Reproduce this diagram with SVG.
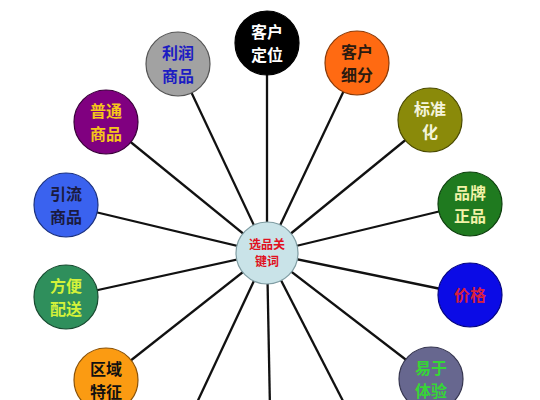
<svg xmlns="http://www.w3.org/2000/svg" width="540" height="400" viewBox="0 0 540 400">
<style>
.c{stroke-width:1.2}
.t{font-family:"Noto Sans CJK SC","Noto Sans CJK JP",sans-serif;font-weight:bold;font-size:16px;text-anchor:middle}
.tc{font-family:"Noto Sans CJK SC","Noto Sans CJK JP",sans-serif;font-weight:bold;font-size:12px;text-anchor:middle;fill:#e01020}
#connectors line{stroke:#111;stroke-width:2.3}
</style>
<rect width="540" height="400" fill="#ffffff"/>
<g id="connectors">
<line x1="267" y1="253" x2="267" y2="43"/>
<line x1="267" y1="253" x2="357" y2="63"/>
<line x1="267" y1="253" x2="430" y2="120"/>
<line x1="267" y1="253" x2="470" y2="204"/>
<line x1="267" y1="253" x2="470" y2="295"/>
<line x1="267" y1="253" x2="431" y2="379"/>
<line x1="267" y1="253" x2="362" y2="438"/>
<line x1="267" y1="253" x2="271" y2="461"/>
<line x1="267" y1="253" x2="179" y2="441"/>
<line x1="267" y1="253" x2="106" y2="380"/>
<line x1="267" y1="253" x2="66" y2="297"/>
<line x1="267" y1="253" x2="66" y2="205"/>
<line x1="267" y1="253" x2="106" y2="122"/>
<line x1="267" y1="253" x2="178" y2="64"/>
</g>
<g id="center">
<circle cx="267" cy="253" r="31" fill="#c9e3e8" stroke="#7f9ca2" stroke-width="1.2"/>
<text class="tc" x="267" y="249">选品关</text>
<text class="tc" x="267" y="266">键词</text>
</g>
<g id="n1">
<circle class="c" cx="267" cy="43" r="32" fill="#000000" stroke="#000"/>
<text class="t" x="267" y="38" fill="#ffffff">客户</text>
<text class="t" x="267" y="61" fill="#ffffff">定位</text>
</g>
<g id="n2">
<circle class="c" cx="357" cy="63" r="32" fill="#ff6a12" stroke="#8a3a08"/>
<text class="t" x="357" y="58" fill="#2a1a10">客户</text>
<text class="t" x="357" y="81" fill="#2a1a10">细分</text>
</g>
<g id="n3">
<circle class="c" cx="430" cy="120" r="32" fill="#8a8a0a" stroke="#4a4a00"/>
<text class="t" x="430" y="115" fill="#f4f4dc">标准</text>
<text class="t" x="430" y="138" fill="#f4f4dc">化</text>
</g>
<g id="n4">
<circle class="c" cx="470" cy="204" r="32" fill="#1f7a1f" stroke="#0e400e"/>
<text class="t" x="470" y="199" fill="#f2f2a8">品牌</text>
<text class="t" x="470" y="222" fill="#f2f2a8">正品</text>
</g>
<g id="n5">
<circle class="c" cx="470" cy="295" r="32" fill="#0b0be6" stroke="#050580"/>
<text class="t" x="470" y="301" fill="#d8203e">价格</text>
</g>
<g id="n6">
<circle class="c" cx="431" cy="379" r="32" fill="#67678f" stroke="#35354f"/>
<text class="t" x="431" y="374" fill="#36d636">易于</text>
<text class="t" x="431" y="397" fill="#36d636">体验</text>
</g>
<g id="n7">
<circle class="c" cx="106" cy="380" r="32" fill="#fb9b12" stroke="#8a5208"/>
<text class="t" x="106" y="375" fill="#111111">区域</text>
<text class="t" x="106" y="398" fill="#111111">特征</text>
</g>
<g id="n8">
<circle class="c" cx="66" cy="297" r="32" fill="#2f8f5c" stroke="#184a30"/>
<text class="t" x="66" y="292" fill="#d4f23a">方便</text>
<text class="t" x="66" y="315" fill="#d4f23a">配送</text>
</g>
<g id="n9">
<circle class="c" cx="66" cy="205" r="32" fill="#3a62ef" stroke="#1c3280"/>
<text class="t" x="66" y="200" fill="#1a1a40">引流</text>
<text class="t" x="66" y="223" fill="#1a1a40">商品</text>
</g>
<g id="n10">
<circle class="c" cx="106" cy="122" r="32" fill="#800080" stroke="#3a003a"/>
<text class="t" x="106" y="117" fill="#f5c61a">普通</text>
<text class="t" x="106" y="140" fill="#f5c61a">商品</text>
</g>
<g id="n11">
<circle class="c" cx="178" cy="64" r="32" fill="#a2a2a2" stroke="#555555"/>
<text class="t" x="178" y="59" fill="#1c1cc2">利润</text>
<text class="t" x="178" y="82" fill="#1c1cc2">商品</text>
</g>
</svg>
